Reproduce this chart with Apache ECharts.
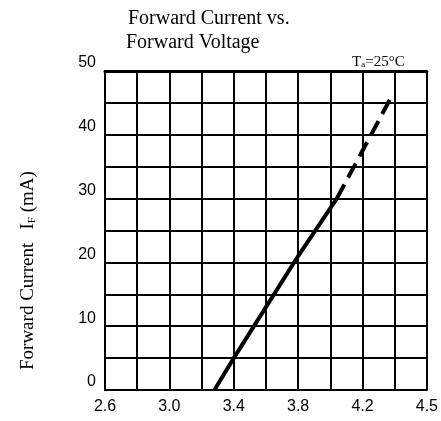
<!DOCTYPE html>
<html>
<head>
<meta charset="utf-8">
<script src="https://cdn.jsdelivr.net/npm/echarts@6/dist/echarts.min.js"></script>
<style>html,body{margin:0;padding:0;background:#fff;}#c{width:441px;height:421px;}</style>
</head>
<body>
<div id="c"></div>
<script>
// Forward voltage (V) vs forward current (mA)
var solidVoltage = [3.28, 3.40, 3.60, 3.80, 4.04];
var solidCurrent = [0, 5, 13, 21, 30];
var dashedVoltage = [4.04, 4.20, 4.37];
var dashedCurrent = [30, 37.5, 45.5];
var xTickValues = [2.6, 3.0, 3.4, 3.8, 4.2, 4.6];
var xTickLabels = ['2.6', '3.0', '3.4', '3.8', '4.2', '4.5'];
var yTickValues = [0, 10, 20, 30, 40, 50];
var yTickLabels = ['0', '10', '20', '30', '40', '50'];
var titleLines = ['Forward Current vs.', 'Forward Voltage'];
var yNameParts = ['Forward Current', 'I', 'F', ' (mA)'];
var conditionText = 'T\u2090=25\u00B0C';

function pairs(xs, ys){ return xs.map(function(x,i){return [x, ys[i]];}); }
function lookup(v, vals, labels){
  for (var i=0;i<vals.length;i++){ if (Math.abs(v-vals[i])<1e-6) return labels[i]; }
  return '';
}
var chart = echarts.init(document.getElementById('c'));
var serif = '"Liberation Serif", "DejaVu Serif", serif';
var sans = '"Liberation Sans", "DejaVu Sans", sans-serif';
chart.setOption({
  animation: false,
  backgroundColor: '#fff',
  grid: {left: 105, right: 14, top: 71, bottom: 31},
  graphic: [
    {type:'text', left: 128, top: 9, style:{text: titleLines[0], font: '20px ' + serif, fill:'#000'}},
    {type:'text', left: 126, top: 33, style:{text: titleLines[1], font: '20px ' + serif, fill:'#000'}},
    {type:'text', left: 352, top: 55, style:{text: conditionText, font: '15px ' + serif, fill:'#000'}},
    {type:'text', x: 28, y: 370, rotation: Math.PI / 2,
      style:{
        text: '{a|' + yNameParts[0] + '}    {a|' + yNameParts[1] + '}{s|' + yNameParts[2] + '}{a|' + yNameParts[3] + '}',
        align: 'left', verticalAlign: 'middle',
        rich: {
          a: {fontFamily: serif, fontSize: 19, fill:'#000'},
          s: {fontFamily: serif, fontSize: 11, fill:'#000', verticalAlign:'bottom', padding:[8,0,0,0]}
        }
      }}
  ],
  xAxis: [{
    type: 'value', min: 2.6, max: 4.6, interval: 0.2,
    axisLine: {show: true, lineStyle: {color:'#000', width: 2}},
    axisTick: {show: false},
    splitLine: {show: true, lineStyle: {color:'#000', width: 2}},
    axisLabel: {color:'#000', fontFamily: sans, fontSize: 16, margin: 9,
      formatter: function(v){ return lookup(v, xTickValues, xTickLabels); }}
  },{
    type: 'value', position: 'top', min: 2.6, max: 4.6,
    axisLine: {show: true, lineStyle: {color:'#000', width: 3}},
    axisTick: {show:false}, axisLabel: {show:false}, splitLine:{show:false}
  }],
  yAxis: {
    type: 'value', min: 0, max: 50, interval: 5,
    axisLine: {show: true, lineStyle: {color:'#000', width: 2}},
    axisTick: {show: false},
    splitLine: {show: true, lineStyle: {color:'#000', width: 2}},
    axisLabel: {color:'#000', fontFamily: sans, fontSize: 16, margin: 9, verticalAlign: 'bottom',
      formatter: function(v){ return lookup(v, yTickValues, yTickLabels); }}
  },
  series: [{
    type: 'line', data: pairs(solidVoltage, solidCurrent), showSymbol: false,
    lineStyle: {color:'#000', width: 4}, z: 5
  },{
    type: 'line', data: pairs(dashedVoltage, dashedCurrent), showSymbol: false,
    lineStyle: {color:'#000', width: 4, type: [16, 8]}, z: 5
  }]
});
</script>
</body>
</html>
